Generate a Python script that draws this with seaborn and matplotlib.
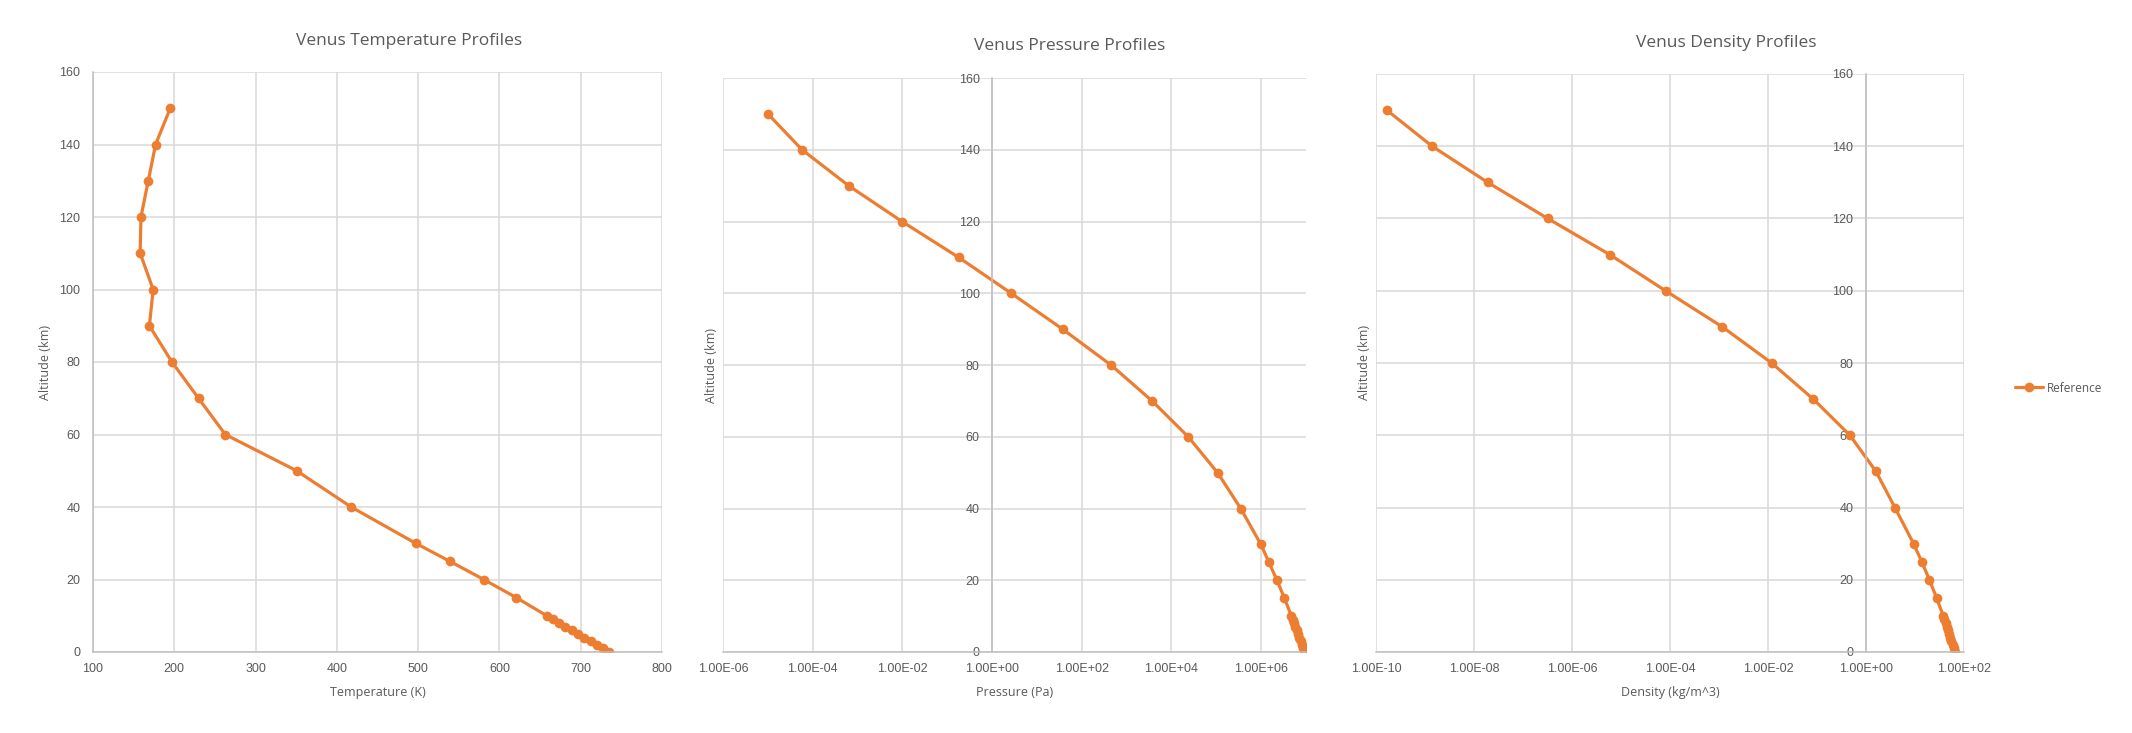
import numpy as np
import pandas as pd
import seaborn as sns
import matplotlib
matplotlib.use("Agg")
import matplotlib.pyplot as plt
from matplotlib.ticker import FuncFormatter, NullLocator, FixedLocator

# Venus reference atmosphere
altitude = [0, 1, 2, 3, 4, 5, 6, 7, 8, 9, 10, 15, 20, 25, 30, 40, 50,
            60, 70, 80, 90, 100, 110, 120, 130, 140, 150]
temperature = [735.3, 727.7, 720.2, 712.4, 704.6, 696.8, 688.8, 681.1, 673.6,
               665.8, 658.2, 620.8, 580.7, 539.2, 496.9, 417.6, 350.5, 262.8,
               229.8, 197.1, 169.4, 174.0, 158.0, 159.0, 168.0, 177.0, 195.0]
pressure = [9.21e6, 8.645e6, 8.109e6, 7.601e6, 7.12e6, 6.665e6, 6.235e6,
            5.828e6, 5.444e6, 5.081e6, 4.739e6, 3.304e6, 2.252e6, 1.493e6,
            9.851e5, 3.501e5, 1.066e5, 2.357e4, 3.69e3, 447.6, 37.3, 2.66,
            0.18, 0.0098, 6.3e-4, 5.8e-5, 1.0e-5]
density = [64.79, 61.56, 58.45, 55.47, 52.62, 49.87, 47.24, 44.71, 42.26,
           39.95, 37.72, 27.49, 19.66, 13.72, 9.337, 3.886, 1.594, 0.4694,
           0.08393, 0.01186, 1.17e-3, 8.1e-5, 5.9e-6, 3.2e-7, 1.9e-8,
           1.4e-9, 1.66e-10]

df = pd.DataFrame({"alt": altitude, "temp": temperature,
                   "pres": pressure, "dens": density})

ORANGE = "#ED7D31"
TXT = "#595959"
GRID = "#D9D9D9"
AXIS = "#BFBFBF"

sns.set_style("white")
plt.rcParams["font.family"] = ["Open Sans", "DejaVu Sans"]

W, H = 2132, 733
fig = plt.figure(figsize=(W / 100, H / 100), dpi=100)


def box(l, r, t, b):
    return [l / W, (H - b) / H, (r - l) / W, (b - t) / H]


ax1 = fig.add_axes(box(93, 662, 72, 652))
ax2 = fig.add_axes(box(723, 1306, 78, 652))
ax3 = fig.add_axes(box(1376, 1964, 74, 652))

for ax, col in [(ax1, "temp"), (ax2, "pres"), (ax3, "dens")]:
    sns.lineplot(data=df, x=col, y="alt", sort=False, estimator=None,
                 color=ORANGE, linewidth=2.3, marker="o", markersize=7,
                 markeredgewidth=0, label="Reference", legend=False, ax=ax)

# common styling
for ax in (ax1, ax2, ax3):
    ax.set_ylim(0, 160)
    ax.set_yticks(range(0, 161, 20))
    ax.grid(True, color=GRID, linewidth=1.1)
    ax.set_axisbelow(True)
    for s in ("top", "right"):
        ax.spines[s].set_visible(False)
    ax.spines["left"].set_color(AXIS)
    ax.spines["bottom"].set_color(AXIS)
    ax.spines["left"].set_linewidth(1.1)
    ax.spines["bottom"].set_linewidth(1.1)
    ax.tick_params(length=0, colors=TXT, labelsize=9)
    ax.tick_params(axis="y", pad=9)
    ax.tick_params(axis="x", pad=8)
    ax.set_ylabel("Altitude (km)", color=TXT, fontsize=9)

ax1.set_xlim(100, 800)
ax1.set_xticks(range(100, 801, 100))
ax1.set_xlabel("Temperature (K)", color=TXT, fontsize=9, labelpad=8)
ax1.yaxis.set_label_coords(-0.072, 0.5)

sci = FuncFormatter(lambda v, p: f"{v:.2E}")
ax2.set_xscale("log")
ax2.set_xlim(1e-6, 1e7)
ax2.xaxis.set_major_locator(FixedLocator([10.0 ** k for k in range(-6, 7, 2)]))
ax2.xaxis.set_minor_locator(NullLocator())
ax2.xaxis.set_major_formatter(sci)
ax2.set_xlabel("Pressure (Pa)", color=TXT, fontsize=9, labelpad=8)

ax3.set_xscale("log")
ax3.set_xlim(1e-10, 1e2)
ax3.xaxis.set_major_locator(FixedLocator([10.0 ** k for k in range(-10, 3, 2)]))
ax3.xaxis.set_minor_locator(NullLocator())
ax3.xaxis.set_major_formatter(sci)
ax3.set_xlabel("Density (kg/m^3)", color=TXT, fontsize=9, labelpad=8)

# value axis crosses the log category axis at 1
for ax in (ax2, ax3):
    ax.spines["left"].set_position(("data", 1.0))
    ax.yaxis.set_label_coords(-0.008, 0.5)

for ax in (ax1, ax2, ax3):
    for lab in ax.get_xticklabels() + ax.get_yticklabels():
        lab.set_family(["Liberation Sans", "DejaVu Sans"])

# titles
fig.text(409 / W, 1 - 41 / H, "Venus Temperature Profiles", ha="center",
         va="center", color=TXT, fontsize=12.5)
fig.text(1070 / W, 1 - 46 / H, "Venus Pressure Profiles", ha="center",
         va="center", color=TXT, fontsize=12.5)
fig.text(1726 / W, 1 - 43 / H, "Venus Density Profiles", ha="center",
         va="center", color=TXT, fontsize=12.5)

handles, labels = ax3.get_legend_handles_labels()
leg = fig.legend(handles, labels, loc="center left",
                 bbox_to_anchor=(2004 / W, 1 - 388 / H), frameon=False,
                 fontsize=8.5, handlelength=2.4, handletextpad=0.3)
for t in leg.get_texts():
    t.set_color(TXT)

fig.savefig("out.png", dpi=100, facecolor="white")
